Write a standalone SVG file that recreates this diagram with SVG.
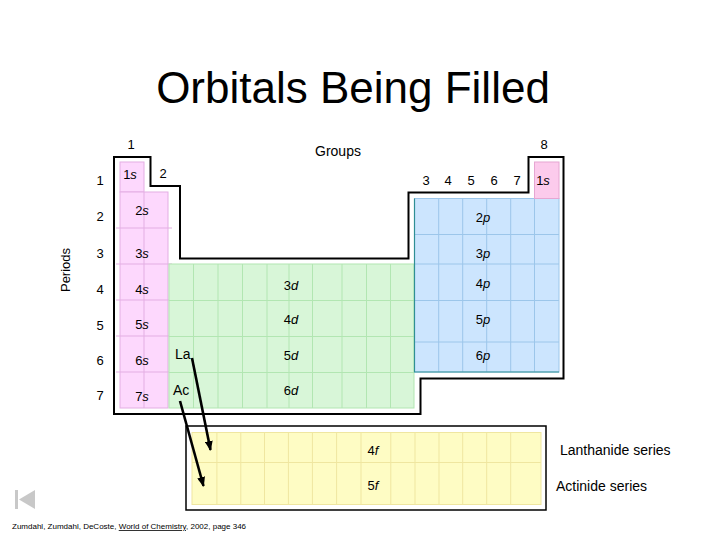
<svg xmlns="http://www.w3.org/2000/svg" width="720" height="540" viewBox="0 0 720 540">
<defs>
<style>
text{font-family:"Liberation Sans",Arial,sans-serif;fill:#000}
.t{font-size:44px}
.l{font-size:14px}
.c{font-size:13px;text-anchor:middle}
.n{font-size:13px;text-anchor:middle}
.i{font-style:italic}
.pk{fill:#fdd8fd;stroke:#e3aee3;stroke-width:1}
.gr{fill:#d8f6d8;stroke:#b2e6b2;stroke-width:1}
.bl{fill:#cce5fe;stroke:#9cc6ea;stroke-width:1}
.yl{fill:#fefcc4;stroke:#efe6a0;stroke-width:1}
.gl{stroke:#b2e6b2;stroke-width:1}
.bgl{stroke:#9cc6ea;stroke-width:1}
.pgl{stroke:#e3aee3;stroke-width:1}
.ygl{stroke:#efe6a0;stroke-width:1}
.ol{fill:none;stroke:#000;stroke-width:2}
.arr{stroke:#000;stroke-width:2.6;fill:none;marker-end:url(#ah)}
</style>
<marker id="ah" viewBox="0 0 10 8" refX="9" refY="4" markerWidth="10" markerHeight="8" markerUnits="userSpaceOnUse" orient="auto">
<path d="M0,0 L10,4 L0,8 Z" fill="#000"/>
</marker>
</defs>
<rect width="720" height="540" fill="#fff"/>

<g id="title"><text class="t" x="353" y="103" text-anchor="middle">Orbitals Being Filled</text></g>

<g id="outline"><path class="ol" d="M114,157 H150.5 V186 H180 V258.5 H408.5 V192.5 H528.5 V157 H563.5 V378.5 H420.5 V414 H114 Z"/></g>

<g id="s-block">
<rect class="pk" x="120" y="162" width="24" height="30"/>
<rect class="pk" x="120" y="192" width="48" height="216"/>
<g class="pgl">
<line x1="144" y1="192" x2="144" y2="408"/>
<line x1="116" y1="228" x2="172" y2="228"/>
<line x1="116" y1="264" x2="172" y2="264"/>
<line x1="116" y1="300" x2="172" y2="300"/>
<line x1="116" y1="336" x2="172" y2="336"/>
<line x1="116" y1="372" x2="172" y2="372"/>
</g>
<text class="c" x="130" y="179">1<tspan class="i">s</tspan></text>
<text class="c" x="142" y="215">2<tspan class="i">s</tspan></text>
<text class="c" x="142" y="258">3<tspan class="i">s</tspan></text>
<text class="c" x="142" y="294">4<tspan class="i">s</tspan></text>
<text class="c" x="142" y="329">5<tspan class="i">s</tspan></text>
<text class="c" x="142" y="365">6<tspan class="i">s</tspan></text>
<text class="c" x="142" y="401">7<tspan class="i">s</tspan></text>
</g>

<g id="d-block">
<rect class="gr" x="169" y="264" width="245" height="144"/>
<g class="gl">
<line x1="193.5" y1="264" x2="193.5" y2="408"/>
<line x1="218" y1="264" x2="218" y2="408"/>
<line x1="242.5" y1="264" x2="242.5" y2="408"/>
<line x1="267" y1="264" x2="267" y2="408"/>
<line x1="289" y1="264" x2="289" y2="408"/>
<line x1="312.5" y1="264" x2="312.5" y2="408"/>
<line x1="342" y1="264" x2="342" y2="408"/>
<line x1="366.5" y1="264" x2="366.5" y2="408"/>
<line x1="390.5" y1="264" x2="390.5" y2="408"/>
<line x1="169" y1="300.5" x2="414" y2="300.5"/>
<line x1="169" y1="336.5" x2="414" y2="336.5"/>
<line x1="169" y1="372.5" x2="414" y2="372.5"/>
</g>
<text class="l" x="175" y="359">La</text>
<text class="l" x="173" y="395">Ac</text>
<text class="c" x="291" y="290">3<tspan class="i">d</tspan></text>
<text class="c" x="291" y="324">4<tspan class="i">d</tspan></text>
<text class="c" x="291" y="360">5<tspan class="i">d</tspan></text>
<text class="c" x="291" y="395">6<tspan class="i">d</tspan></text>
</g>

<g id="p-block">
<rect class="bl" x="414.5" y="198.5" width="144.5" height="173.5"/>
<g class="bgl">
<line x1="438.7" y1="198.5" x2="438.7" y2="372"/>
<line x1="462.7" y1="198.5" x2="462.7" y2="372"/>
<line x1="486.7" y1="198.5" x2="486.7" y2="372"/>
<line x1="510.7" y1="198.5" x2="510.7" y2="372"/>
<line x1="534.5" y1="198.5" x2="534.5" y2="372"/>
<line x1="414.5" y1="234.5" x2="559" y2="234.5"/>
<line x1="414.5" y1="264" x2="559" y2="264"/>
<line x1="414.5" y1="300.5" x2="559" y2="300.5"/>
<line x1="414.5" y1="342" x2="559" y2="342"/>
</g>
<path d="M414.5,198.5 V372 H559" fill="none" stroke="#2f8f94" stroke-width="1.2"/>
<text class="c" x="483" y="222">2<tspan class="i">p</tspan></text>
<text class="c" x="483" y="258">3<tspan class="i">p</tspan></text>
<text class="c" x="483" y="288">4<tspan class="i">p</tspan></text>
<text class="c" x="483" y="324">5<tspan class="i">p</tspan></text>
<text class="c" x="483" y="360">6<tspan class="i">p</tspan></text>
</g>

<g id="he-cell">
<rect x="534.5" y="162" width="24.5" height="36.5" fill="#fccbec" stroke="#e6a6d2" stroke-width="1"/>
<text class="c" x="543" y="185">1<tspan class="i">s</tspan></text>
</g>

<g id="f-block">
<rect x="186" y="426" width="360" height="84" fill="#fff" stroke="#000" stroke-width="1.5"/>
<rect class="yl" x="192" y="432.5" width="349" height="72"/>
<g class="ygl">
<line x1="216.9" y1="432.5" x2="216.9" y2="504.5"/>
<line x1="240.8" y1="432.5" x2="240.8" y2="504.5"/>
<line x1="264.5" y1="432.5" x2="264.5" y2="504.5"/>
<line x1="288.4" y1="432.5" x2="288.4" y2="504.5"/>
<line x1="312.4" y1="432.5" x2="312.4" y2="504.5"/>
<line x1="336.6" y1="432.5" x2="336.6" y2="504.5"/>
<line x1="361" y1="432.5" x2="361" y2="504.5"/>
<line x1="390.8" y1="432.5" x2="390.8" y2="504.5"/>
<line x1="415" y1="432.5" x2="415" y2="504.5"/>
<line x1="439" y1="432.5" x2="439" y2="504.5"/>
<line x1="462.7" y1="432.5" x2="462.7" y2="504.5"/>
<line x1="486.7" y1="432.5" x2="486.7" y2="504.5"/>
<line x1="510.7" y1="432.5" x2="510.7" y2="504.5"/>
<line x1="192" y1="462.5" x2="541" y2="462.5"/>
</g>
<text class="c" x="373" y="455">4<tspan class="i">f</tspan></text>
<text class="c" x="373" y="490">5<tspan class="i">f</tspan></text>
</g>

<g id="labels">
<text class="n" x="131" y="149">1</text>
<text class="n" x="163" y="178">2</text>
<text class="n" x="544" y="149">8</text>
<text class="n" x="426" y="185">3</text>
<text class="n" x="448" y="185">4</text>
<text class="n" x="471" y="185">5</text>
<text class="n" x="494" y="185">6</text>
<text class="n" x="517" y="185">7</text>
<text class="l" x="338" y="156" text-anchor="middle">Groups</text>
<text class="n" x="100" y="185">1</text>
<text class="n" x="100" y="221">2</text>
<text class="n" x="100" y="258">3</text>
<text class="n" x="100" y="294">4</text>
<text class="n" x="100" y="330">5</text>
<text class="n" x="100" y="365">6</text>
<text class="n" x="100" y="400">7</text>
<text class="c" transform="translate(70,270) rotate(-90)">Periods</text>
<text class="l" x="560" y="455">Lanthanide series</text>
<text class="l" x="556" y="491">Actinide series</text>
</g>

<g id="connectors">
<line class="arr" x1="192" y1="358" x2="210.5" y2="450"/>
<line class="arr" x1="180" y1="401" x2="203.5" y2="486"/>
</g>

<g id="nav-icon">
<rect x="15" y="490" width="3" height="19" fill="#c8c8c8"/>
<polygon points="35,490 19,499.5 35,509" fill="#c8c8c8"/>
</g>

<g id="citation">
<text x="12" y="529" style="font-size:8px">Zumdahl, Zumdahl, DeCoste, <tspan text-decoration="underline">World of Chemistry</tspan>, 2002, page 346</text>
</g>
</svg>
